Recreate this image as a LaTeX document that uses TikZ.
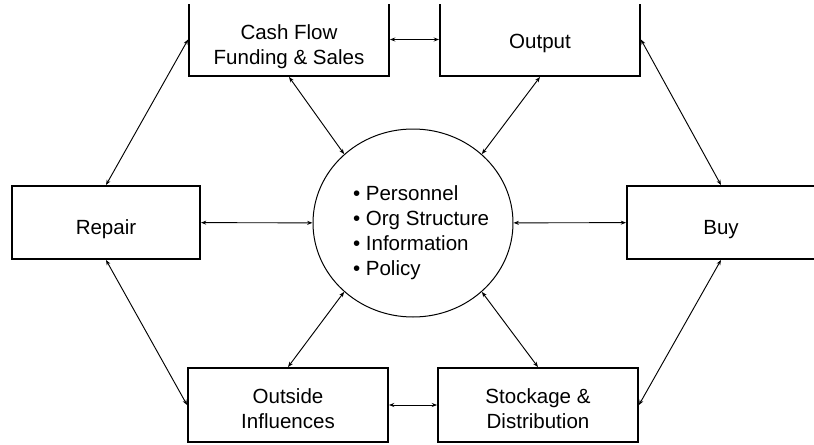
\documentclass[tikz,border=0pt]{standalone}
\usepackage{fontspec}
\setmainfont{Liberation Sans}
\usetikzlibrary{shapes.geometric, arrows.meta}

% invisible strut, pushes a node's text down a little
\newcommand{\lift}[1]{\rule{0pt}{#1pt}}
\newcommand{\hubline}[1]{\makebox[90pt][l]{\textbullet\ #1}}

\begin{document}
\begin{tikzpicture}[x=0.75pt, y=0.75pt, >={Stealth[length=4pt, width=3pt]},
    box/.style = {draw, line width=1.4pt, minimum width=150pt, minimum height=54.75pt, align=center, font=\fontsize{15.4}{18.75}\selectfont},
    main/.style = {draw, ellipse, line width=0.75pt, minimum width=150pt, minimum height=141pt, inner sep=0pt, align=left, font=\fontsize{15.4}{18.75}\selectfont},
    link/.style = {<->, line width=0.7pt}]
    \useasboundingbox (0,0) rectangle (814,444);
    \clip (0,0) rectangle (814,439);

    \node[main] (hub) at (413,221) {\lift{26}\hubline{Personnel}\\\hubline{Org Structure}\\\hubline{Information}\\\hubline{Policy}};
    \node[box] (cash) at (289,404.5) {\lift{21.5}Cash Flow\\Funding \& Sales};
    \node[box] (output) at (540,404.5) {\lift{16}Output};
    \node[box, minimum width=141pt] (repair) at (106,221.5) {\lift{21.5}Repair};
    \node[box, minimum width=141pt] (buy) at (721,221.5) {\lift{21.5}Buy};
    \node[box, minimum height=55.5pt] (outside) at (288,39) {\lift{16}Outside\\Influences};
    \node[box, minimum height=55.5pt] (stock) at (538,39) {\lift{16}Stockage \&\\Distribution};

    \draw[link] (cash) -- (output);
    \draw[link] (outside) -- (stock);
    \draw[link] (repair) -- (hub);
    \draw[link] (hub) -- (buy);
    \draw[link] (repair.north) -- (cash.west);
    \draw[link] (repair.south) -- (outside.west);
    \draw[link] (output.east) -- (buy.north);
    \draw[link] (buy.south) -- (stock.east);
    \draw[link] (cash.south) -- (hub.135);
    \draw[link] (output.south) -- (hub.45);
    \draw[link] (outside.north) -- (hub.225);
    \draw[link] (stock.north) -- (hub.315);
\end{tikzpicture}
\end{document}
